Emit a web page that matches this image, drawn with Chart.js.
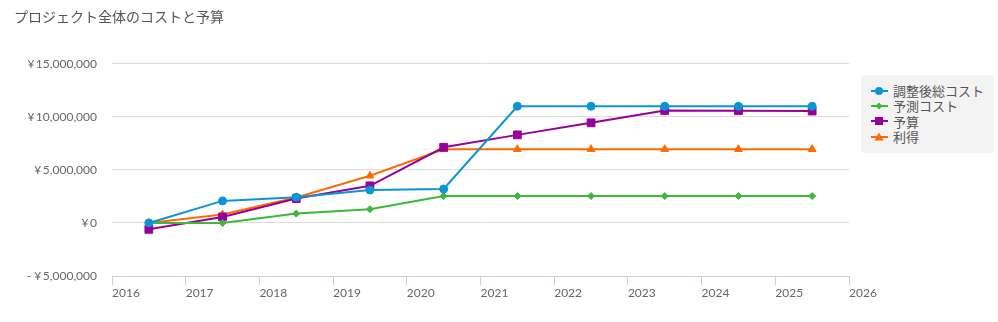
<!DOCTYPE html>
<html>
<head>
<meta charset="utf-8">
<script src="https://cdn.jsdelivr.net/npm/chart.js@4"></script>
<style>
  body { margin: 0; background: #fff; }
  #wrap { position: relative; width: 998px; height: 322px; }
  #legend {
    position: absolute; left: 861px; top: 75px; width: 133px; height: 78px;
    background: #f3f3f3; border-radius: 4px; box-sizing: border-box; padding-top: 8px;
    font-family: "Noto Sans CJK JP", Lato, sans-serif; font-size: 13px; color: #555;
  }
  .item { height: 15.3px; line-height: 15px; display: flex; align-items: center; white-space: nowrap; }
  .item svg { margin-left: 10px; margin-right: 5px; }
</style>
</head>
<body>
<div id="wrap">
  <canvas id="chart" width="998" height="322"></canvas>
  <div id="legend"></div>
</div>
<script>
// years are placed mid-year on a linear axis
const years = [2016.5, 2017.5, 2018.5, 2019.5, 2020.5, 2021.5, 2022.5, 2023.5, 2024.5, 2025.5];
const adjustedCost = [0, 2080000, 2430000, 3100000, 3200000, 11000000, 11000000, 11000000, 11000000, 11000000];
const forecastCost = [0, 0, 880000, 1300000, 2530000, 2530000, 2530000, 2530000, 2530000, 2530000];
const budget = [-600000, 570000, 2300000, 3500000, 7130000, 8300000, 9440000, 10600000, 10580000, 10550000];
const profit = [0, 790000, 2400000, 4450000, 6950000, 6950000, 6950000, 6950000, 6950000, 6950000];
const seriesNames = ['調整後総コスト', '予測コスト', '予算', '利得'];
const colors = ['#0a96d6', '#3cb83c', '#990099', '#ff6a00'];
const markers = ['circle', 'rectRot', 'rect', 'triangle'];
const markerSizes = [4, 3.5, 5.5, 4.5];

function toPoints(values) {
    return years.map((x, i) => ({ x: x, y: values[i] }));
}

function yen(v) {
    const s = Math.abs(v).toLocaleString('en-US');
    return (v < 0 ? '- ' : '') + '¥\u2009' + s;
}

const allSeries = [adjustedCost, forecastCost, budget, profit];
const datasets = allSeries.map((vals, i) => ({
    label: seriesNames[i],
    data: toPoints(vals),
    borderColor: colors[i],
    backgroundColor: colors[i],
    borderWidth: 2,
    pointStyle: markers[i],
    pointRadius: markerSizes[i],
    pointBorderWidth: 1,
    pointHoverRadius: markerSizes[i],
    tension: 0
}));

const tickFont = { family: 'Lato, "Noto Sans CJK JP", sans-serif', size: 12 };

const ctx = document.getElementById('chart').getContext('2d');
const myChart = new Chart(ctx, {
    type: 'line',
    data: { datasets: datasets },
    options: {
        responsive: false,
        animation: false,
        layout: { padding: { left: 14, right: 149, top: 0, bottom: 0 } },
        plugins: {
            legend: { display: false },
            tooltip: { enabled: false },
            title: {
                display: true,
                text: 'プロジェクト全体のコストと予算',
                align: 'start',
                color: '#555',
                font: { family: '"Noto Sans CJK JP", sans-serif', size: 14, weight: 'normal' },
                padding: { top: 8, bottom: 39 }
            }
        },
        scales: {
            x: {
                type: 'linear',
                min: 2016,
                max: 2026,
                afterFit: scale => { scale.height = 46; },
                border: { display: true, color: '#c6d3e7', width: 1 },
                grid: { drawOnChartArea: false, drawTicks: true, tickLength: 9, color: '#c6d3e7' },
                ticks: {
                    stepSize: 1,
                    align: 'start',
                    padding: 1,
                    color: '#666',
                    font: tickFont,
                    callback: v => String(v)
                }
            },
            y: {
                min: -5000000,
                max: 15000000,
                afterFit: scale => { scale.width = 98; },
                border: { display: false },
                grid: {
                    drawTicks: false,
                    color: ctx => ctx.tick && ctx.tick.value === -5000000 ? 'rgba(0,0,0,0)' : '#dcdcdc'
                },
                ticks: {
                    stepSize: 5000000,
                    padding: 15,
                    color: '#666',
                    font: tickFont,
                    callback: v => yen(v)
                }
            }
        }
    }
});

// legend drawn in HTML: a short line with the series marker, then the name
function markerSvg(i) {
    const c = colors[i];
    let shape = '';
    if (markers[i] === 'circle') shape = `<circle cx="8" cy="5" r="4" fill="${c}"/>`;
    if (markers[i] === 'rectRot') shape = `<polygon points="8,1.5 11.5,5 8,8.5 4.5,5" fill="${c}"/>`;
    if (markers[i] === 'rect') shape = `<rect x="4" y="1" width="8" height="8" fill="${c}"/>`;
    if (markers[i] === 'triangle') shape = `<polygon points="8,0.5 12.5,8.5 3.5,8.5" fill="${c}"/>`;
    return `<svg width="17" height="10"><line x1="0" y1="5" x2="17" y2="5" stroke="${c}" stroke-width="2"/>${shape}</svg>`;
}

const legend = document.getElementById('legend');
seriesNames.forEach((name, i) => {
    const row = document.createElement('div');
    row.className = 'item';
    row.innerHTML = markerSvg(i) + '<span>' + name + '</span>';
    legend.appendChild(row);
});
</script>
</body>
</html>
